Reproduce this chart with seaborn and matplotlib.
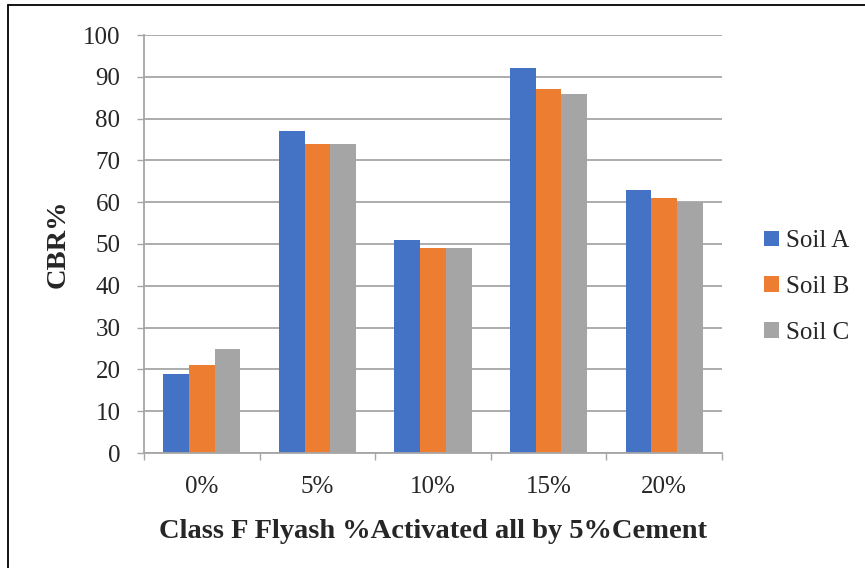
import matplotlib
matplotlib.use("Agg")
import matplotlib.pyplot as plt
from matplotlib.lines import Line2D
from matplotlib.patches import Patch
import numpy as np
import pandas as pd
import seaborn as sns

# CBR values per flyash content for the three soils
flyash = ["0%", "5%", "10%", "15%", "20%"]
soil_a = [19, 77, 51, 92, 63]
soil_b = [21, 74, 49, 87, 61]
soil_c = [25, 74, 49, 86, 60]
soils = ["Soil A", "Soil B", "Soil C"]
colors = ["#4472C4", "#ED7D31", "#A5A5A5"]
y_ticks = list(range(0, 101, 10))

df = pd.DataFrame({
    "Flyash": flyash * 3,
    "CBR": soil_a + soil_b + soil_c,
    "Soil": [s for s in soils for _ in flyash],
})

sns.set_style("white")
plt.rcParams["font.family"] = ["Liberation Serif", "DejaVu Serif"]

W, H = 865, 568
fig = plt.figure(figsize=(W / 100, H / 100), dpi=100)
ax = fig.add_axes([144 / W, 1 - 453 / H, 578 / W, 418 / H])

sns.barplot(data=df, x="Flyash", y="CBR", hue="Soil", order=flyash,
            hue_order=soils, palette=colors, width=2 / 3, gap=0,
            linewidth=0, saturation=1, legend=False, ax=ax)

grid_c = "#A6A6A6"
ax.set_xlim(-0.5, len(flyash) - 0.5)
ax.set_ylim(0, 100)
ax.set_yticks(y_ticks)
ax.set_yticklabels([str(v) for v in y_ticks], fontsize=18)
ax.yaxis.grid(True, color=grid_c, linewidth=1.3)
ax.xaxis.grid(False)
ax.set_axisbelow(True)

for side in ("top", "right"):
    ax.spines[side].set_visible(False)
for side in ("left", "bottom"):
    ax.spines[side].set_color(grid_c)
    ax.spines[side].set_linewidth(1.3)

ax.tick_params(axis="y", which="major", direction="out", length=5,
               width=1, color=grid_c, pad=12, left=True)
ax.set_xticks(range(len(flyash)))
ax.set_xticklabels(flyash, fontsize=18)
ax.set_xticks(np.arange(-0.5, len(flyash)), minor=True)
ax.tick_params(axis="x", which="major", length=0, pad=16.5)
ax.tick_params(axis="x", which="minor", direction="out", length=5,
               width=1, color=grid_c, bottom=True)

ax.set_xlabel("Class F Flyash %Activated all by 5%Cement", fontsize=20.5,
              fontweight="bold", va="center")
ax.xaxis.set_label_coords(0.5, (453 - 532) / 418)
ax.set_ylabel("CBR%", fontsize=20.5, fontweight="bold", va="center")
ax.yaxis.set_label_coords((58 - 144) / 578, 0.5)

handles = [Patch(facecolor=c, edgecolor="none") for c in colors]
fig.legend(handles, soils, loc="center left",
           bbox_to_anchor=(764 / W, 1 - 287 / H), frameon=False,
           fontsize=18, handlelength=0.6, handleheight=0.6,
           handletextpad=0.3, labelspacing=0.95, borderpad=0,
           borderaxespad=0)

# frame around the figure (left and top edges)
fig.add_artist(Line2D([8 / W, 8 / W], [0, 1 - 5 / H], color="black",
                      linewidth=1.3, transform=fig.transFigure))
fig.add_artist(Line2D([8 / W, 1], [1 - 5 / H, 1 - 5 / H], color="black",
                      linewidth=1.3, transform=fig.transFigure))

fig.savefig("out.png", dpi=100)
